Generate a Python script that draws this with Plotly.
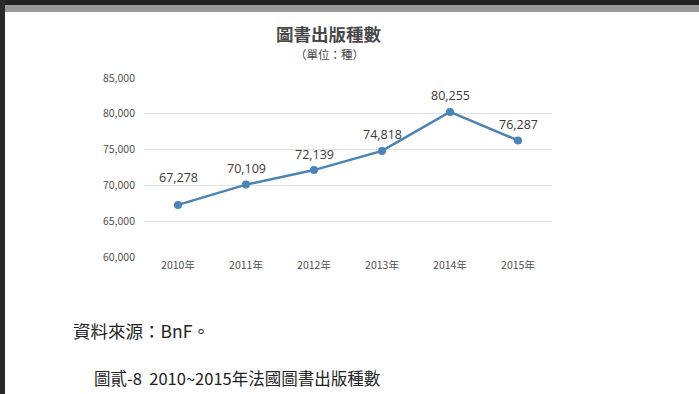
import plotly.graph_objects as go

years = ["2010年", "2011年", "2012年", "2013年", "2014年", "2015年"]
counts = [67278, 70109, 72139, 74818, 80255, 76287]
y_ticks = [60000, 65000, 70000, 75000, 80000, 85000]
y_tick_labels = ["60,000", "65,000", "70,000", "75,000", "80,000", "85,000"]

W, H = 699, 394
L, R, T, B = 144, 552, 78, 257

def px(x):
    return (x - L) / (R - L)

def py(y):
    return (B - y) / (B - T)

fig = go.Figure()
fig.add_trace(go.Scatter(
    x=years, y=counts, mode="lines+markers",
    line=dict(color="#4a84b6", width=2.5),
    marker=dict(color="#4a84b6", size=8),
    cliponaxis=False, hoverinfo="skip", showlegend=False,
))

# data labels above the points
label_shift = [27, 16, 16, 16, 16, 16]
for xv, yv, sh in zip(years, counts, label_shift):
    fig.add_annotation(x=xv, y=yv, text=f"{yv:,}", showarrow=False,
                       yshift=sh, yanchor="middle", xanchor="center",
                       font=dict(family="Open Sans, Noto Sans CJK TC", size=12.5, color="#3a3a3a"))

fig.update_layout(
    width=W, height=H,
    margin=dict(l=L, r=W - R, t=T, b=H - B),
    paper_bgcolor="white", plot_bgcolor="white",
    font=dict(family="Noto Sans CJK TC"),
    xaxis=dict(showgrid=False, zeroline=False, showline=False, ticks="",
               tickfont=dict(family="Noto Sans CJK TC", size=10.5, color="#505050"),
               range=[-0.5, 5.5], fixedrange=True),
    yaxis=dict(range=[60000, 85000], tickvals=y_ticks, ticktext=y_tick_labels,
               showgrid=True, gridcolor="#e2e2e2", gridwidth=1, zeroline=False,
               showline=False, ticks="", ticklabelstandoff=8,
               tickfont=dict(family="Noto Sans CJK TC", size=10.5, color="#505050"),
               fixedrange=True),
)

# page frame (dark border and grey band at the top)
fig.add_shape(type="rect", xref="paper", yref="paper",
              x0=px(0), x1=px(W), y0=py(0), y1=py(5), fillcolor="#222222", line_width=0, layer="above")
fig.add_shape(type="rect", xref="paper", yref="paper",
              x0=px(5), x1=px(W), y0=py(5), y1=py(12), fillcolor="#9a9a9a", line_width=0, layer="above")
fig.add_shape(type="rect", xref="paper", yref="paper",
              x0=px(0), x1=px(5), y0=py(0), y1=py(H), fillcolor="#2a2a2a", line_width=0, layer="above")

texts = [
    ("<b>圖書出版種數</b>", 329, 33, 17.5, "#484848", "center"),
    ("（單位：種）", 329, 54, 11.5, "#444444", "center"),
    ("資料來源：BnF。", 71, 330, 17.5, "#222222", "left"),
    ("圖貳-8  2010~2015年法國圖書出版種數", 92, 378, 16.5, "#222222", "left"),
]
for t, x, y, s, c, anc in texts:
    fig.add_annotation(text=t, x=px(x), y=py(y), xref="paper", yref="paper",
                       xanchor=anc, yanchor="middle", showarrow=False,
                       font=dict(family="Noto Sans CJK TC", size=s, color=c))

fig.write_html("out.html", config={"displayModeBar": False},
               post_script="document.body.style.margin='0px';document.body.style.overflow='hidden';")
